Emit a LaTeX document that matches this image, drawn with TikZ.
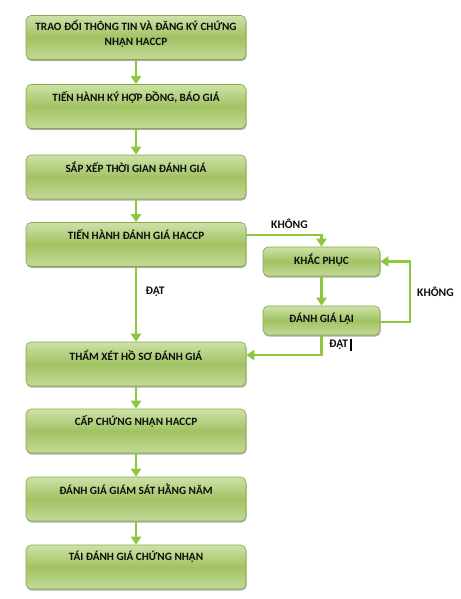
\documentclass[tikz,border=0pt]{standalone}
\usepackage{fontspec}
\setmainfont{Carlito}
\usetikzlibrary{arrows.meta,shadows}
\definecolor{boxtop}{HTML}{CDE2A8}
\definecolor{boxmid}{HTML}{A2C263}
\definecolor{boxbot}{HTML}{C3DA98}
\definecolor{boxline}{HTML}{86A84A}
\definecolor{arrowgreen}{HTML}{8DC63F}
\tikzset{
  box/.style={rectangle, rounded corners=5pt, draw=boxline, line width=0.6pt,
    top color=boxtop, bottom color=boxbot, middle color=boxmid,
    drop shadow={shadow xshift=0.6pt, shadow yshift=-1.6pt, fill=black!45, opacity=0.7},
    inner sep=0pt},
  bigbox/.style={box, minimum width=220pt, minimum height=44pt},
  smallbox/.style={box, minimum width=117pt, minimum height=29pt},
  txt/.style={font=\bfseries\fontsize{11.2}{15.5}\selectfont, text=black!95, align=center, inner sep=0pt},
  lbl/.style={font=\bfseries\fontsize{11.6}{13}\selectfont, text=black!95, inner sep=0pt},
  flow/.style={draw=arrowgreen, line width=2.8pt, -{Triangle[width=10pt,length=8pt]}},
}
\begin{document}
\begin{tikzpicture}[x=1pt,y=-1pt]
\useasboundingbox (0,0) rectangle (460,599);
% main boxes
\node[bigbox] (b1) at (136,37.5) {};
\node[bigbox] (b2) at (136,106.5) {};
\node[bigbox] (b3) at (136,177) {};
\node[bigbox] (b4) at (136,244.5) {};
\node[bigbox] (b5) at (136,364) {};
\node[bigbox] (b6) at (136,431) {};
\node[bigbox] (b7) at (136,499) {};
\node[bigbox] (b8) at (136,567) {};
% small boxes
\node[smallbox] (kp) at (321.5,261.5) {};
\node[smallbox] (dgl) at (321.5,320.5) {};
% texts
\node[txt] (t1) at (136,34) {TRAO ĐỔI THÔNG TIN VÀ ĐĂNG KÝ CHỨNG\\NHẬN HACCP};
\node[txt] (t2) at (136,98) {TIẾN HÀNH KÝ HỢP ĐỒNG, BÁO GIÁ};
\node[txt] (t3) at (136,167) {SẮP XẾP THỜI GIAN ĐÁNH GIÁ};
\node[txt] (t4) at (136,235) {TIẾN HÀNH ĐÁNH GIÁ HACCP};
\node[txt] (t5) at (136,355) {THẨM XÉT HỒ SƠ ĐÁNH GIÁ};
\node[txt] (t6) at (136,422) {CẤP CHỨNG NHẬN HACCP};
\node[txt] (t7) at (136,489) {ĐÁNH GIÁ GIÁM SÁT HẰNG NĂM};
\node[txt] (t8) at (136,557) {TÁI ĐÁNH GIÁ CHỨNG NHẬN};
\node[txt] (tkp) at (321.5,260) {KHẮC PHỤC};
\node[txt] (tdgl) at (321.5,318.5) {ĐÁNH GIÁ LẠI};
% connectors
\draw[flow] (b1) -- (b2);
\draw[flow] (b2) -- (b3);
\draw[flow] (b3) -- (b4);
\draw[flow] (b4) -- (b5);
\draw[flow] (b5) -- (b6);
\draw[flow] (b6) -- (b7);
\draw[flow] (b7) -- (b8);
\draw[flow] (t4 -| b4.east) -| (kp.north);
\draw[flow] (kp) -- (dgl);
\coordinate (rloop) at (410,322);
\draw[flow] (dgl.east |- rloop) -- (rloop) |- (kp.east);
\draw[flow] (dgl.south) |- (t5 -| b5.east);
% labels
\node[lbl] (l1) at (289.5,224) {KHÔNG};
\node[lbl] (l2) at (435.5,292) {KHÔNG};
\node[lbl, anchor=west] (l3) at (145.5,292) {ĐẠT};
\node[lbl, anchor=west] (l4) at (329,345) {ĐẠT};
\coordinate (cur1) at (351,338.5);
\coordinate (cur2) at (351,350.5);
\draw[black, line width=1.1pt] (cur1) -- (cur2);
\end{tikzpicture}
\end{document}
